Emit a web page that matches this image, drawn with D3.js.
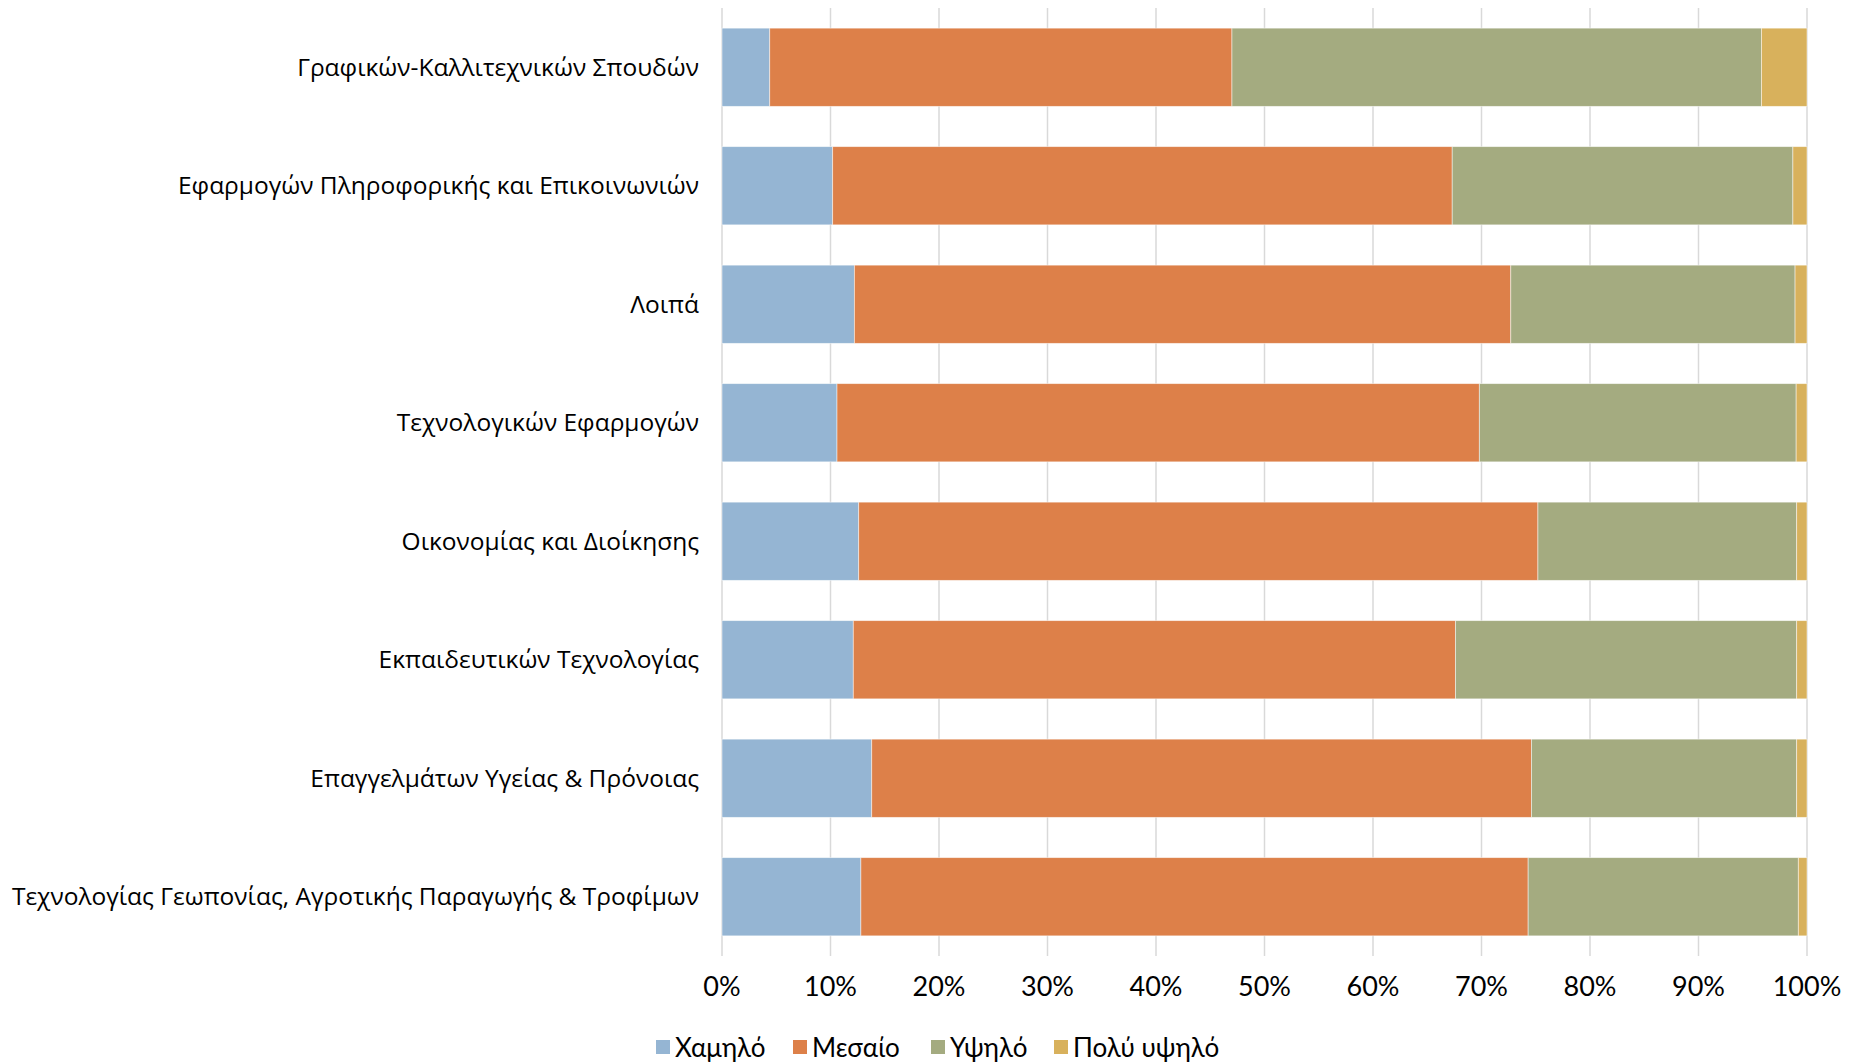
<!DOCTYPE html>
<html>
<head>
  <meta charset="utf-8">
  <title>stacked bars</title>
  <script src="https://cdn.jsdelivr.net/npm/d3@7"></script>
  <style>
    body { margin: 0; background: #fff; }
    .grid line { stroke: #d9d9d9; stroke-width: 1.5; }
    .cat text { font-family: "Open Sans", sans-serif; font-size: 24.5px; fill: #000; }
    .ticks text { font-family: Lato, sans-serif; font-size: 27px; fill: #000; }
    .legend text { font-family: Lato, sans-serif; font-size: 26px; fill: #000; }
  </style>
</head>
<body>
<svg id="chart" width="1853" height="1062"></svg>
<script>
// categories, top to bottom
var categories = [
  "Γραφικών-Καλλιτεχνικών Σπουδών",
  "Εφαρμογών Πληροφορικής και Επικοινωνιών",
  "Λοιπά",
  "Τεχνολογικών Εφαρμογών",
  "Οικονομίας και Διοίκησης",
  "Εκπαιδευτικών Τεχνολογίας",
  "Επαγγελμάτων Υγείας & Πρόνοιας",
  "Τεχνολογίας Γεωπονίας, Αγροτικής Παραγωγής & Τροφίμων"
];
var series = ["Χαμηλό", "Μεσαίο", "Υψηλό", "Πολύ υψηλό"];
var colors = ["#95b5d3", "#dd8049", "#a4ab80", "#d8b15c"];

// percentages per series, same order as categories
var low      = [4.4, 10.2, 12.2, 10.6, 12.6, 12.1, 13.8, 12.8];
var medium   = [42.6, 57.1, 60.5, 59.2, 62.6, 55.5, 60.8, 61.5];
var high     = [48.8, 31.4, 26.2, 29.2, 23.85, 31.45, 24.45, 24.9];
var veryHigh = [4.2, 1.3, 1.1, 1.0, 0.95, 0.95, 0.95, 0.8];

var tickValues = [0, 10, 20, 30, 40, 50, 60, 70, 80, 90, 100];

var rows = categories.map(function(c, i) {
  return { cat: c, "Χαμηλό": low[i], "Μεσαίο": medium[i], "Υψηλό": high[i], "Πολύ υψηλό": veryHigh[i] };
});

var svg = d3.select('#chart');
var plotLeft = 722, plotRight = 1807, plotTop = 8, plotBottom = 956;

var x = d3.scaleLinear().domain([0, 100]).range([plotLeft, plotRight]);
var y = d3.scaleBand().domain(categories).range([plotTop, plotBottom]).paddingInner(0.34).paddingOuter(0.17);

// vertical gridlines
svg.append('g').attr('class', 'grid').selectAll('line').data(tickValues).enter().append('line')
  .attr('x1', function(d) { return x(d); }).attr('x2', function(d) { return x(d); })
  .attr('y1', plotTop).attr('y2', plotBottom);

var stack = d3.stack().keys(series)(rows);

svg.append('g').selectAll('g').data(stack).enter().append('g')
  .attr('fill', function(d, i) { return colors[i]; })
  .selectAll('rect').data(function(d) { return d; }).enter().append('rect')
  .attr('x', function(d) { return x(d[0]); })
  .attr('width', function(d) { return x(d[1]) - x(d[0]); })
  .attr('y', function(d) { return y(d.data.cat); })
  .attr('height', y.bandwidth())
  .attr('stroke', '#fff').attr('stroke-width', 0.8).attr('stroke-opacity', 0.6);

// category labels
svg.append('g').attr('class', 'cat').selectAll('text').data(categories).enter().append('text')
  .attr('x', plotLeft - 23)
  .attr('y', function(d) { return y(d) + y.bandwidth() / 2; })
  .attr('dy', '0.35em')
  .attr('text-anchor', 'end')
  .text(function(d) { return d; });

// x tick labels
svg.append('g').attr('class', 'ticks').selectAll('text').data(tickValues).enter().append('text')
  .attr('x', function(d) { return x(d); })
  .attr('y', 987)
  .attr('dy', '0.35em')
  .attr('text-anchor', 'middle')
  .text(function(d) { return d + '%'; });

// legend
var legendX = [656, 793, 931, 1054];
var lg = svg.append('g').attr('class', 'legend').selectAll('g').data(series).enter().append('g')
  .attr('transform', function(d, i) { return 'translate(' + legendX[i] + ',1048)'; });
lg.append('rect').attr('x', 0).attr('y', -8).attr('width', 14).attr('height', 14)
  .attr('fill', function(d, i) { return colors[i]; });
lg.append('text').attr('x', 19).attr('dy', '0.35em').text(function(d) { return d; });
</script>
</body>
</html>
